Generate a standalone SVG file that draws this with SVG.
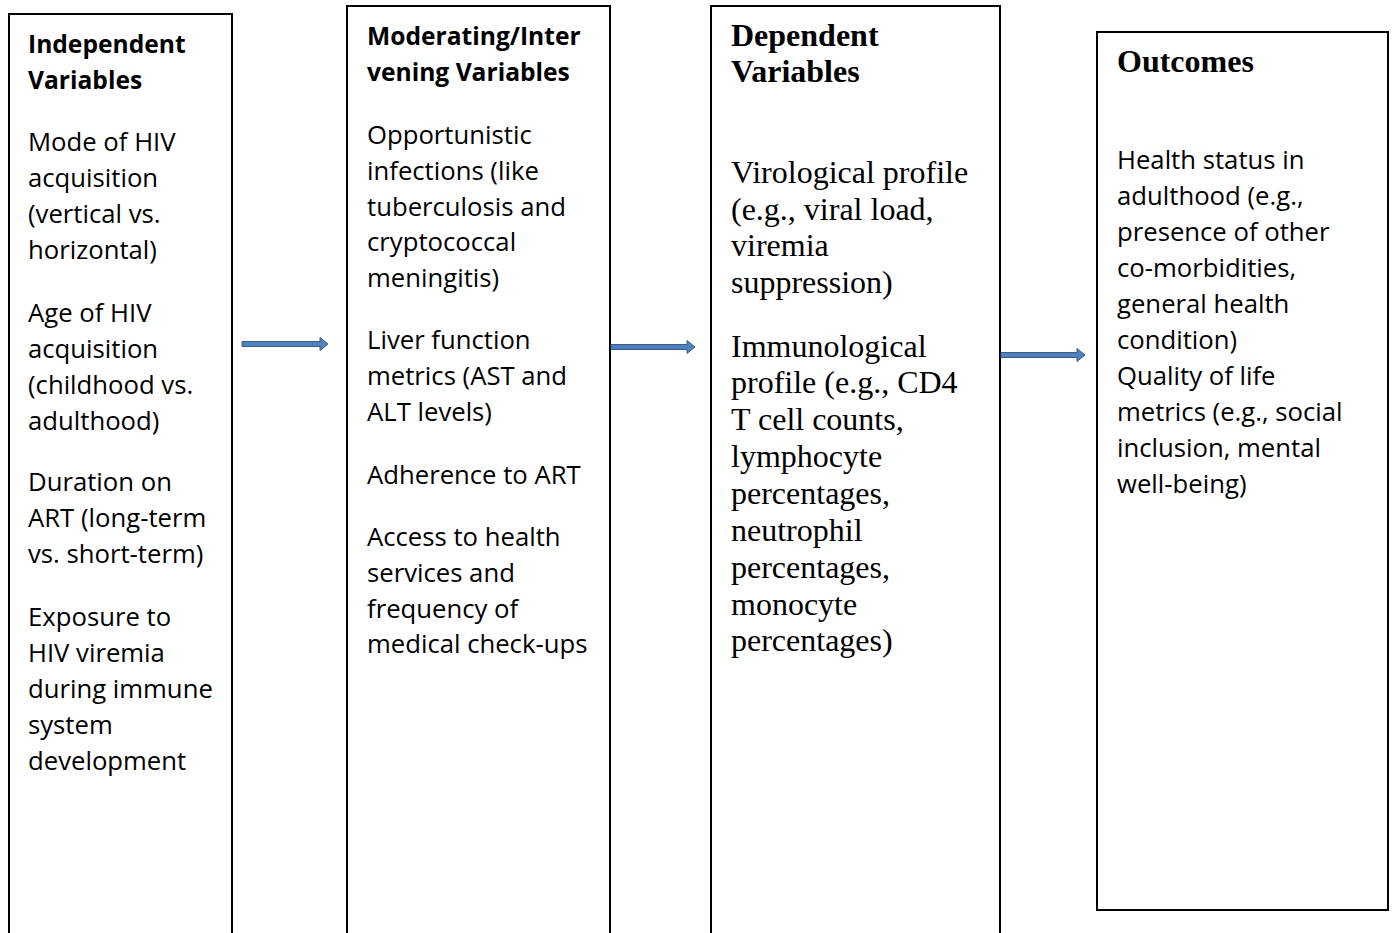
<svg xmlns="http://www.w3.org/2000/svg" width="1395" height="933" viewBox="0 0 1395 933">
<style>
.box{fill:#fff;stroke:#000;stroke-width:2}
.s{font-family:"Open Sans","Liberation Sans",sans-serif;font-size:25.7px;fill:#000}
.sb{font-family:"Open Sans","Liberation Sans",sans-serif;font-size:24.6px;font-weight:bold;fill:#000}
.t{font-family:"Liberation Serif","Times New Roman",serif;font-size:32px;fill:#000}
.tb{font-family:"Liberation Serif","Times New Roman",serif;font-size:32px;font-weight:bold;fill:#000}
.arr{fill:#4f81bd;stroke:#385d8a;stroke-width:1}
</style>
<rect width="1395" height="933" fill="#fff"/>
<g id="independent">
<rect class="box" x="9" y="14" width="223" height="930"/>
<text class="sb" x="28" y="53">Independent</text>
<text class="sb" x="28" y="89">Variables</text>
<text class="s" x="28"><tspan x="28" y="151">Mode of HIV</tspan><tspan x="28" y="187">acquisition</tspan><tspan x="28" y="223">(vertical vs.</tspan><tspan x="28" y="259">horizontal)</tspan><tspan x="28" y="322">Age of HIV</tspan><tspan x="28" y="358">acquisition</tspan><tspan x="28" y="394">(childhood vs.</tspan><tspan x="28" y="430">adulthood)</tspan><tspan x="28" y="491">Duration on</tspan><tspan x="28" y="527">ART (long-term</tspan><tspan x="28" y="563">vs. short-term)</tspan><tspan x="28" y="626">Exposure to</tspan><tspan x="28" y="662">HIV viremia</tspan><tspan x="28" y="698">during immune</tspan><tspan x="28" y="734">system</tspan><tspan x="28" y="770">development</tspan></text>
</g>
<g id="moderating">
<rect class="box" x="347" y="6" width="263" height="940"/>
<text class="sb" x="367" y="45">Moderating/Inter</text>
<text class="sb" x="367" y="81">vening Variables</text>
<text class="s"><tspan x="367" y="144">Opportunistic</tspan><tspan x="367" y="180">infections (like</tspan><tspan x="367" y="216">tuberculosis and</tspan><tspan x="367" y="251">cryptococcal</tspan><tspan x="367" y="287">meningitis)</tspan><tspan x="367" y="349">Liver function</tspan><tspan x="367" y="385">metrics (AST and</tspan><tspan x="367" y="421">ALT levels)</tspan><tspan x="367" y="484">Adherence to ART</tspan><tspan x="367" y="546">Access to health</tspan><tspan x="367" y="582">services and</tspan><tspan x="367" y="618">frequency of</tspan><tspan x="367" y="653">medical check-ups</tspan></text>
</g>
<g id="dependent">
<rect class="box" x="711" y="6" width="289" height="940"/>
<text class="tb" x="731" y="46">Dependent</text>
<text class="tb" x="731" y="82">Variables</text>
<text class="t"><tspan x="731" y="183">Virological profile</tspan><tspan x="731" y="220">(e.g., viral load,</tspan><tspan x="731" y="256">viremia</tspan><tspan x="731" y="293">suppression)</tspan><tspan x="731" y="357">Immunological</tspan><tspan x="731" y="393">profile (e.g., CD4</tspan><tspan x="731" y="430">T cell counts,</tspan><tspan x="731" y="467">lymphocyte</tspan><tspan x="731" y="504">percentages,</tspan><tspan x="731" y="541">neutrophil</tspan><tspan x="731" y="578">percentages,</tspan><tspan x="731" y="615">monocyte</tspan><tspan x="731" y="651">percentages)</tspan></text>
</g>
<g id="outcomes">
<rect class="box" x="1097" y="32" width="291" height="878"/>
<text class="tb" x="1117" y="72">Outcomes</text>
<text class="s"><tspan x="1117" y="169">Health status in</tspan><tspan x="1117" y="205">adulthood (e.g.,</tspan><tspan x="1117" y="241">presence of other</tspan><tspan x="1117" y="277">co-morbidities,</tspan><tspan x="1117" y="313">general health</tspan><tspan x="1117" y="349">condition)</tspan><tspan x="1117" y="385">Quality of life</tspan><tspan x="1117" y="421">metrics (e.g., social</tspan><tspan x="1117" y="457">inclusion, mental</tspan><tspan x="1117" y="493">well-being)</tspan></text>
</g>
<g id="connectors">
<path class="arr" d="M242,341.5 H320 V337.5 L328,344 L320,350.5 V346.5 H242 Z"/>
<path class="arr" d="M611,344.5 H687 V340.5 L695,347 L687,353.5 V349.5 H611 Z"/>
<path class="arr" d="M1001,352.5 H1077 V348.5 L1085,355 L1077,361.5 V357.5 H1001 Z"/>
</g>
</svg>
